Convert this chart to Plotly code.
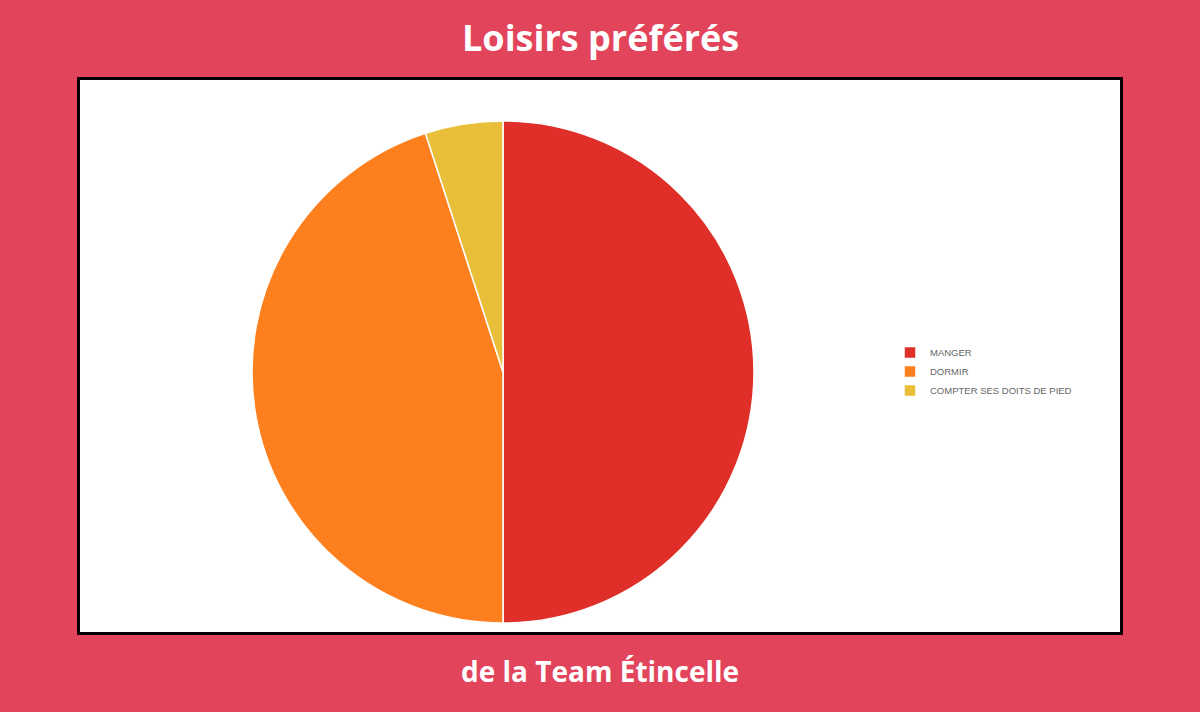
import plotly.graph_objects as go

labels = ["MANGER", "DORMIR", "COMPTER SES DOITS DE PIED"]
values = [50, 45, 5]
colors = ["#DF2F28", "#FE7F1E", "#E9BF39"]

W, H = 1200, 712
cx, cy, r = 503, 372, 251

fig = go.Figure(go.Pie(
    labels=labels, values=values, sort=False, direction="clockwise", rotation=0,
    marker=dict(colors=colors, line=dict(color="white", width=1.5)),
    textinfo="none", hoverinfo="label+percent",
    domain=dict(x=[(cx - r) / W, (cx + r) / W], y=[1 - (cy + r) / H, 1 - (cy - r) / H]),
))

fig.update_layout(
    width=W, height=H, margin=dict(l=0, r=0, t=0, b=0),
    paper_bgcolor="#E2445C", plot_bgcolor="#E2445C",
    showlegend=True,
    legend=dict(x=890 / W, y=1 - 371.5 / H, xanchor="left", yanchor="middle",
                font=dict(family="Liberation Sans, Arial", size=9.5, color="#666666"),
                bgcolor="rgba(0,0,0,0)", itemwidth=30, tracegroupgap=0),
    shapes=[dict(type="rect", xref="paper", yref="paper",
                 x0=78.5 / W, x1=1121.5 / W, y0=1 - 633.5 / H, y1=1 - 78.5 / H,
                 fillcolor="white", line=dict(color="black", width=3), layer="below")],
    annotations=[
        dict(text="<b>Loisirs préférés</b>", x=0.5, y=1 - 38 / H, xref="paper", yref="paper",
             showarrow=False, font=dict(family="Open Sans, Lato", size=36, color="white"),
             xanchor="center", yanchor="middle"),
        dict(text="<b>de la Team Étincelle</b>", x=0.5, y=1 - 671 / H, xref="paper", yref="paper",
             showarrow=False, font=dict(family="Open Sans, Lato", size=28, color="white"),
             xanchor="center", yanchor="middle"),
    ],
)

fig.write_html("out.html")
